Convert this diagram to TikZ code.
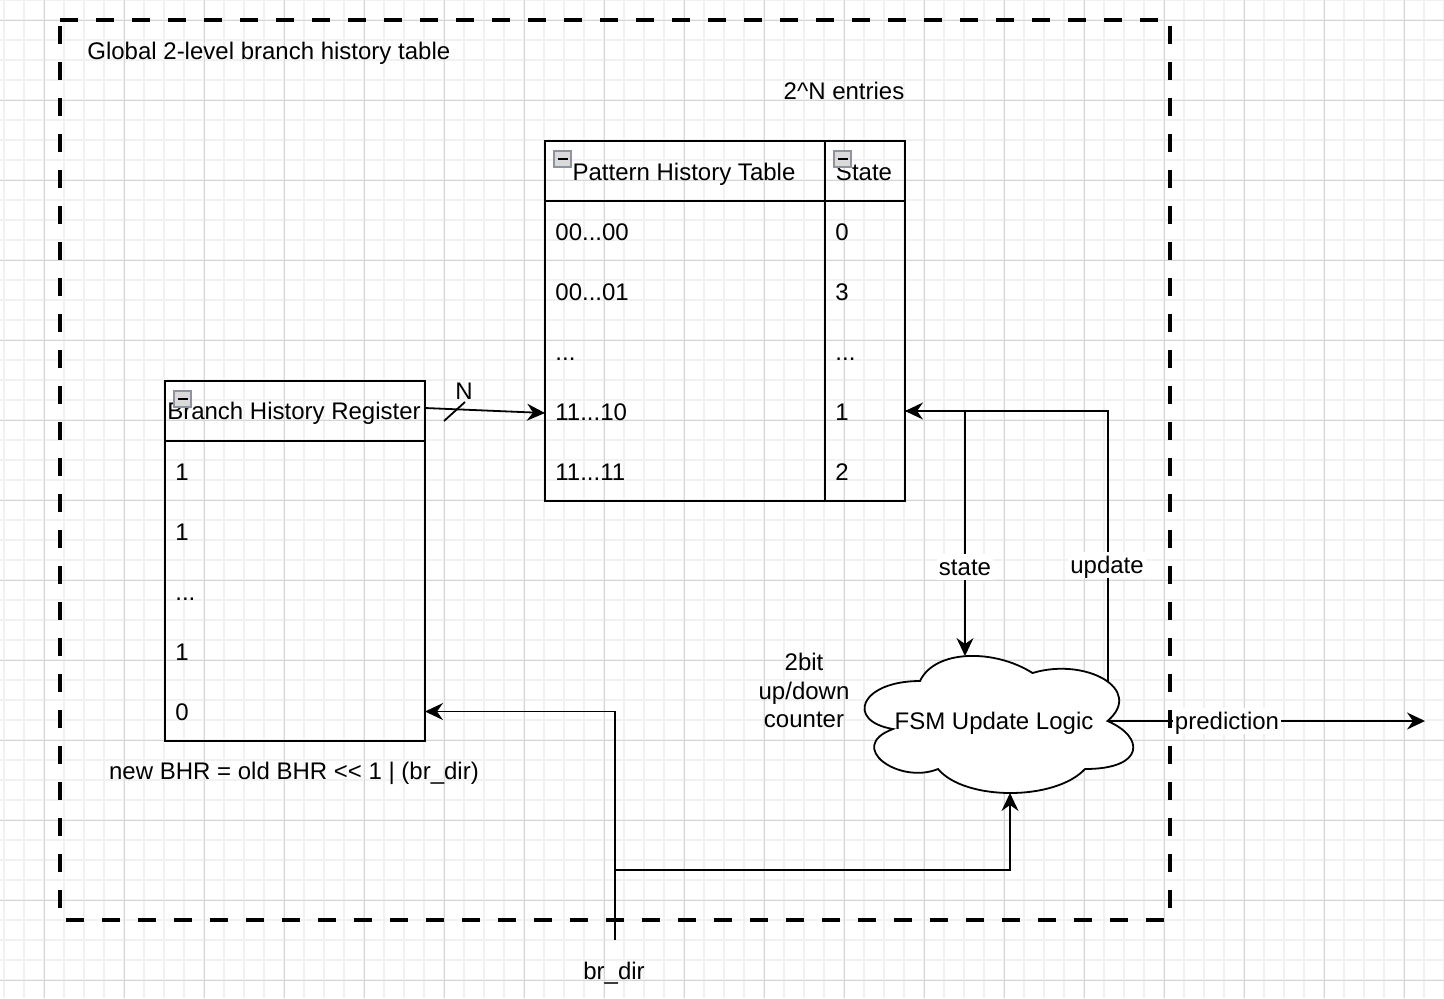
\documentclass[tikz,border=0pt]{standalone}
\usepackage{fontspec}
\setmainfont{Liberation Sans}
\usetikzlibrary{arrows.meta}
\definecolor{gridminor}{HTML}{F1F1F1}
\definecolor{gridmajor}{HTML}{D6D6D6}
\definecolor{iconbd}{HTML}{8E939E}
\definecolor{iconfill}{HTML}{DADADA}
\tikzset{
  txt/.style={font=\fontsize{12pt}{14.4pt}\selectfont, inner sep=0pt, text height=8.6pt, text depth=0pt},
  mtxt/.style={font=\fontsize{12pt}{14.25pt}\selectfont, inner sep=0pt, align=center},
  lbl/.style={font=\fontsize{12pt}{14.4pt}\selectfont, inner xsep=1pt, inner ysep=0pt, text height=11pt, text depth=2.4pt, fill=white},
  tbl/.style={draw, line width=0.9pt},
  conn/.style={line width=0.9pt},
  arr/.style={conn, -{Stealth[length=9pt,width=8.5pt,inset=3pt]}},
  icon/.style={draw=iconbd, fill=iconfill, line width=0.6pt},
  frame/.style={line width=2pt, dash pattern=on 9pt off 9pt},
  cloudshape/.style={draw, line width=0.9pt, fill=white},
}
\begin{document}
\begin{tikzpicture}[x=0.5pt,y=-0.5pt]
\useasboundingbox (0,0) rectangle (1444,998);
\fill[white] (0,0) rectangle (1444,998);
% grid
\foreach \x in {4,24,...,1444} \draw[gridminor, line width=1pt] (\x,0) -- (\x,998);
\foreach \y in {0,20,...,998} \draw[gridminor, line width=1pt] (0,\y) -- (1444,\y);
\foreach \x in {44,124,...,1444} \draw[gridmajor, line width=0.5pt] (\x,0) -- (\x,998);
\foreach \y in {20,100,...,998} \draw[gridmajor, line width=0.5pt] (0,\y) -- (1444,\y);

% container
\draw[frame] (60,20) -- (1170,20) -- (1170,920) -- (60,920) -- cycle;
\node[txt, anchor=west] (title) at (87,50.5) {Global 2-level branch history table};
\node[txt] (entries) at (844,91) {2\textasciicircum N entries};

% Pattern History Table
\draw[tbl] (545,141) rectangle (905,501);
\draw[tbl] (545,201) -- (905,201);
\draw[tbl] (825,141) -- (825,501);
\node[txt] (phth) at (684,171.5) {Pattern History Table};
\node[txt] (phts) at (864,171.5) {State};
\node[txt, anchor=west] (p1) at (555,231.5) {00...00};
\node[txt, anchor=west] (p2) at (555,291.5) {00...01};
\node[txt, anchor=west] (p3) at (555,351.5) {...};
\node[txt, anchor=west] (p4) at (555,411.5) {11...10};
\node[txt, anchor=west] (p5) at (555,471.5) {11...11};
\node[txt, anchor=west] (s1) at (835,231.5) {0};
\node[txt, anchor=west] (s2) at (835,291.5) {3};
\node[txt, anchor=west] (s3) at (835,351.5) {...};
\node[txt, anchor=west] (s4) at (835,411.5) {1};
\node[txt, anchor=west] (s5) at (835,471.5) {2};

% Branch History Register
\draw[tbl] (165,381) rectangle (425,741);
\draw[tbl] (165,441) -- (425,441);
\node[txt] (bhrh) at (294,411) {Branch History Register};
\node[txt, anchor=west] (b1) at (175,471.5) {1};
\node[txt, anchor=west] (b2) at (175,531.5) {1};
\node[txt, anchor=west] (b3) at (175,591.5) {...};
\node[txt, anchor=west] (b4) at (175,651.5) {1};
\node[txt, anchor=west] (b5) at (175,711.5) {0};
\node[txt] (formula) at (294,771) {new BHR = old BHR <{}< 1 | (br\_dir)};

% collapse icons
\foreach \ix/\iy in {554/151, 834/151, 174/391}{
  \draw[icon] (\ix,\iy) rectangle ++(17,16);
  \draw[line width=0.8pt] (\ix+3.5,\iy+8) -- (\ix+13.5,\iy+8);
}

% cloud
\draw[cloudshape] (920,681)
  .. controls (860,681) and (845,721) .. (893,729)
  .. controls (845,746.6) and (899,785) .. (938,769)
  .. controls (965,801) and (1055,801) .. (1085,769)
  .. controls (1145,769) and (1145,737) .. (1107.5,721)
  .. controls (1145,689) and (1085,657) .. (1032.5,673)
  .. controls (995,649) and (935,649) .. (920,681) -- cycle;
\node[txt] (fsm) at (994,720.5) {FSM Update Logic};
\node[mtxt] (counter) at (804,690.5) {2bit\\up/down\\counter};

% connector end points
\coordinate (bhrHR) at (425,408);
\coordinate (phtL4) at (545,413);
\coordinate (phtR4) at (905,411);
\coordinate (cloudT) at (965,656);
\coordinate (cloudUR) at (1108,682);
\coordinate (cloudR) at (1107.5,721);
\coordinate (cloudB) at (1010,793);
\coordinate (predEnd) at (1425,721);
\coordinate (brdir) at (615,940);
\coordinate (bhrR5) at (425,711.5);
\coordinate (jbr) at (615,870);
\coordinate (sl1) at (444,421);
\coordinate (sl2) at (465,402);

% connectors
\draw[arr] (bhrHR) -- (phtL4);
\draw[conn] (sl1) -- (sl2);
\node[txt] (nlab) at (464,390.5) {N};
\draw[arr] (phtR4) -| (cloudT);
\draw[arr] (cloudUR) |- (phtR4);
\draw[arr] (cloudR) -- (predEnd);
\draw[arr] (brdir) |- (bhrR5);
\draw[arr] (jbr) -| (cloudB);
\node[lbl] (statelab) at (965,567) {state};
\node[lbl] (updlab) at (1107,565) {update};
\node[lbl] (predlab) at (1227,721) {prediction};
\node[txt] (brlab) at (614,970.5) {br\_dir};
\end{tikzpicture}
\end{document}
